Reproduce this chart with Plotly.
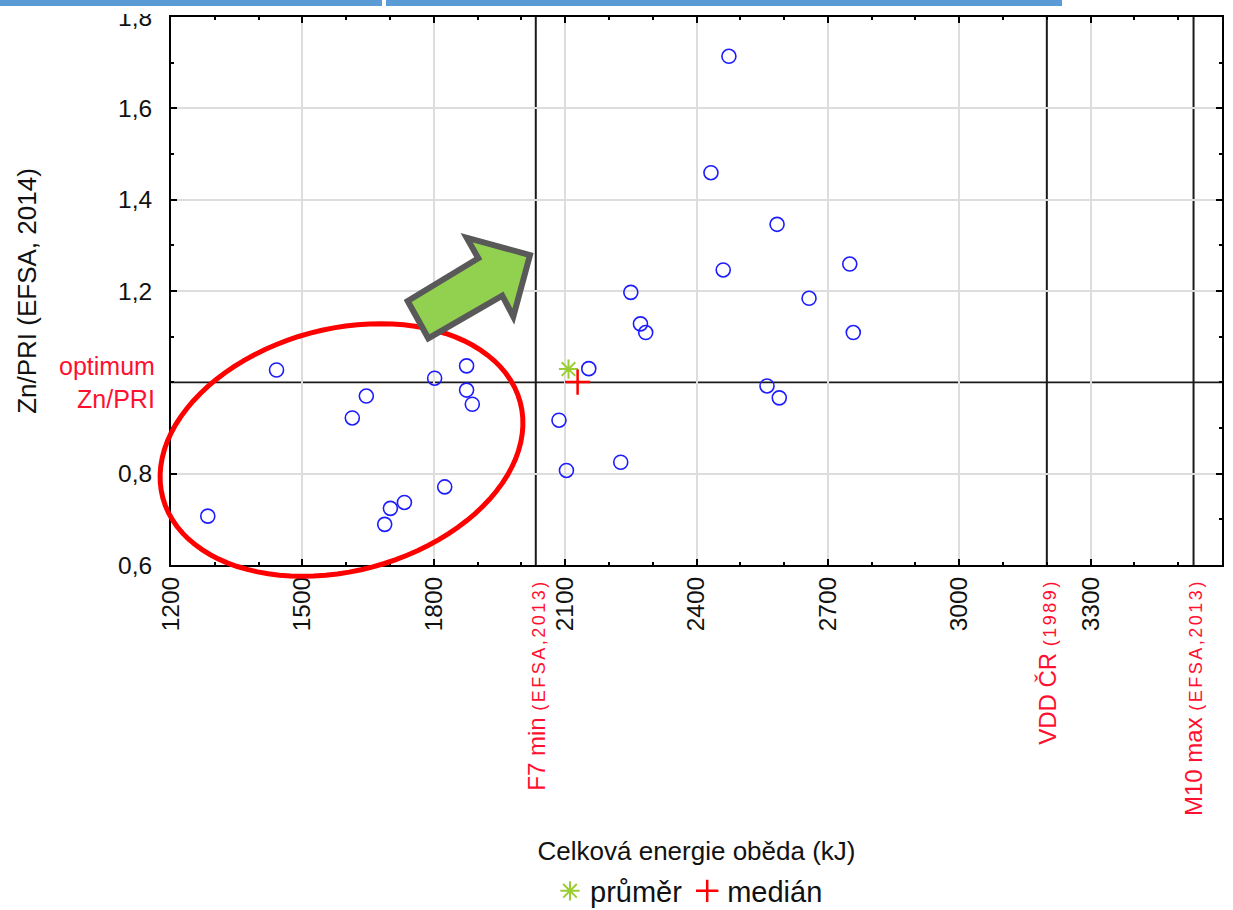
import numpy as np
import plotly.graph_objects as go

# Total lunch energy (kJ) and the Zn/PRI ratio of each menu
energy_kj = [1284, 1441, 1614, 1646, 1688, 1701, 1733, 1802, 1825, 1875, 1875, 1888,
             2086, 2103, 2154, 2227, 2250, 2272, 2284, 2433, 2461, 2474, 2561, 2584,
             2589, 2657, 2750, 2758]
zn_pri = [0.707, 1.027, 0.922, 0.970, 0.689, 0.724, 0.737, 1.009, 0.771, 1.036, 0.983, 0.952,
          0.917, 0.807, 1.030, 0.825, 1.197, 1.128, 1.109, 1.459, 1.246, 1.714, 0.992, 1.346,
          0.966, 1.184, 1.259, 1.109]

# Energy reference values (vertical lines) and the Zn/PRI optimum (horizontal line)
ref_energy = [2033, 3200, 3535]
ref_names = ["F7 min", "VDD ČR", "M10 max"]
ref_sources = ["(EFSA,2013)", "(1989)", "(EFSA,2013)"]
optimum_zn = 1.0

x_ticks = [1200, 1500, 1800, 2100, 2400, 2700, 3000, 3300, 3600]
# the 1,0 position carries the "optimum Zn/PRI" label instead of a number
y_ticks = [0.6, 0.8, 1.2, 1.4, 1.6, 1.8]

mean_x, mean_y = float(np.mean(energy_kj)), float(np.mean(zn_pri))
med_x, med_y = float(np.median(energy_kj)), float(np.median(zn_pri))

# Page geometry (pixels)
W, H = 1233, 910
L, R, T, B = 171, 11, 17, 345
PW, PH = W - L - R, H - T - B


def paper(px, py):
    """Pixel position on the page -> paper coordinates."""
    return (px - L) / PW, (H - B - py) / PH


FONT = "Arial, Liberation Sans, sans-serif"
RED = "#ff1030"

fig = go.Figure()

fig.add_trace(go.Scatter(
    x=energy_kj, y=zn_pri, mode="markers", showlegend=False,
    marker=dict(symbol="circle-open", size=14, color="#1c1cff", line=dict(width=1.6)),
))
fig.add_trace(go.Scatter(
    x=[mean_x], y=[mean_y], mode="markers", name="průměr",
    marker=dict(symbol="asterisk-open", size=16, color="#9acd32", line=dict(width=2)),
))
fig.add_trace(go.Scatter(
    x=[med_x], y=[med_y], mode="markers", name="medián",
    marker=dict(symbol="cross-thin-open", size=18, color="#ff0000", line=dict(width=2.5)),
))

shapes = []
# reference lines, above the grid but under the markers
for xv in ref_energy:
    shapes.append(dict(type="line", xref="x", yref="paper", x0=xv, x1=xv, y0=0, y1=1,
                       line=dict(color="#1a1a1a", width=2), layer="between"))
shapes.append(dict(type="line", xref="paper", yref="y", x0=0, x1=1, y0=optimum_zn, y1=optimum_zn,
                   line=dict(color="#1a1a1a", width=1.7), layer="between"))

# red ellipse around the low-energy menus
cx, cy, a, b, th = 341.5, 450.0, 185.0, 121.0, np.radians(15)
t = np.linspace(0, 2 * np.pi, 97)
ex = cx + a * np.cos(t) * np.cos(th) + b * np.sin(t) * np.sin(th)
ey = cy - a * np.cos(t) * np.sin(th) + b * np.sin(t) * np.cos(th)
pts = [paper(u, v) for u, v in zip(ex, ey)]
path = "M " + " L ".join(f"{p:.5f},{q:.5f}" for p, q in pts) + " Z"
shapes.append(dict(type="path", xref="paper", yref="paper", path=path,
                   line=dict(color="#ff0000", width=5), layer="above"))

# green block arrow
arrow_px = [(407.7, 301), (428.3, 338.3), (502.3, 295.7), (513.3, 316.7),
            (530, 255), (466.7, 237.7), (478.3, 258.3)]
apts = [paper(u, v) for u, v in arrow_px]
apath = "M " + " L ".join(f"{p:.5f},{q:.5f}" for p, q in apts) + " Z"
shapes.append(dict(type="path", xref="paper", yref="paper", path=apath,
                   fillcolor="#92d050", line=dict(color="#595959", width=6), layer="above"))

# header band at the top of the page
x0, y0 = paper(0, 14)
x1, y1 = paper(W, 0)
shapes.append(dict(type="rect", xref="paper", yref="paper", x0=x0, x1=x1, y0=y0, y1=y1,
                   fillcolor="white", line=dict(width=0), layer="above"))
for (u0, u1) in [(0, 382), (386, 1062)]:
    bx0, by0 = paper(u0, 6)
    bx1, by1 = paper(u1, 0)
    shapes.append(dict(type="rect", xref="paper", yref="paper", x0=bx0, x1=bx1, y0=by0, y1=by1,
                       fillcolor="#5b9bd5", line=dict(width=0), layer="above"))

annotations = []
ox, _ = paper(157, 0)
annotations.append(dict(xref="paper", yref="y", x=ox, y=optimum_zn, xanchor="right",
                        yanchor="middle", align="right", showarrow=False,
                        text="optimum<br>Zn/PRI", font=dict(family=FONT, size=25, color=RED)))
_, ly = paper(0, 577)
for xv, nm, src in zip(ref_energy, ref_names, ref_sources):
    annotations.append(dict(
        xref="x", yref="paper", x=xv, y=ly, xanchor="center", yanchor="top",
        textangle=-90, showarrow=False,
        text=f"{nm} <span style='font-size:18px;letter-spacing:2.5px'>{src}</span>",
        font=dict(family=FONT, size=24, color=RED)))

fig.update_layout(
    width=W, height=H,
    margin=dict(l=L, r=R, t=T, b=B, autoexpand=False),
    plot_bgcolor="white", paper_bgcolor="white",
    separators=", ",
    font=dict(family=FONT, color="#111111"),
    shapes=shapes, annotations=annotations,
    showlegend=True,
    legend=dict(orientation="h", x=paper(689, 0)[0], xanchor="center",
                y=paper(0, 891)[1], yanchor="middle",
                font=dict(family=FONT, size=29, color="#111111"), bgcolor="rgba(0,0,0,0)",
                itemwidth=30),
)

axis_common = dict(
    showline=True, linecolor="black", linewidth=2, mirror="ticks",
    ticks="inside", ticklen=6, tickwidth=2, tickcolor="black",
    showgrid=True, gridcolor="#dddddd", gridwidth=2, zeroline=False, automargin=False,
    tickfont=dict(family=FONT, size=24.5, color="#111111"),
)

fig.update_xaxes(
    **axis_common, range=[x_ticks[0], x_ticks[-1]], tickmode="array", tickvals=x_ticks,
    tickangle=-90,
    minor=dict(tick0=1200, dtick=100, ticks="inside", ticklen=3, tickwidth=1.5,
               tickcolor="black", showgrid=False),
    title=dict(text="Celková energie oběda (kJ)", standoff=211,
               font=dict(family=FONT, size=26, color="#111111")),
)
fig.update_yaxes(
    **axis_common, range=[0.6, 1.8], tickmode="array", tickvals=y_ticks,
    tickformat=".1f", ticklabelstandoff=12,
    minor=dict(tick0=0.6, dtick=0.1, ticks="inside", ticklen=3, tickwidth=1.5,
               tickcolor="black", showgrid=False),
    title=dict(text="Zn/PRI (EFSA, 2014)", standoff=74,
               font=dict(family=FONT, size=26, color="#111111")),
)

# page without the default body margin so the figure fills the window exactly
fig.write_html("out.html",
               post_script="document.body.style.margin='0px';"
                           "document.body.style.overflow='hidden';")
